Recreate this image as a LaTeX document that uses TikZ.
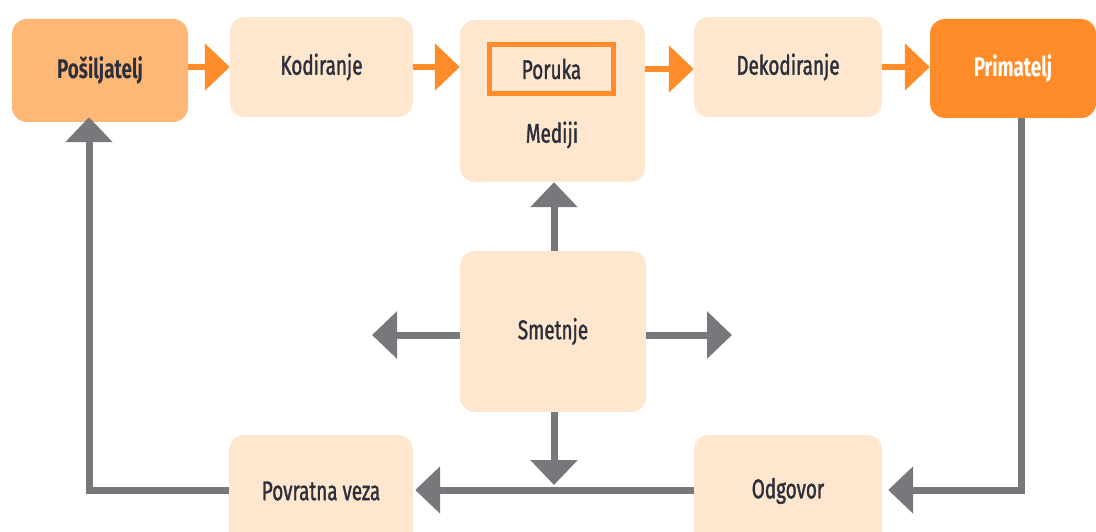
\documentclass[tikz,border=0pt]{standalone}
\usepackage{fontspec}
\setmainfont[FakeStretch=0.7]{Fira Sans}
\newfontfamily\medfont[FakeStretch=0.7,FakeBold=1.3]{Fira Sans}
\usetikzlibrary{arrows.meta}
\definecolor{lightbox}{HTML}{FEE6CF}
\definecolor{midorange}{HTML}{FDB777}
\definecolor{strongorange}{HTML}{FF8C28}
\definecolor{arrowgray}{HTML}{77787B}
\definecolor{textdark}{HTML}{2B2F3A}
\tikzset{
  lbl/.style={font=\medfont\fontsize{27}{30}\selectfont, text=textdark},
  box/.style={draw=none, fill=lightbox, rounded corners=15pt, lbl, inner sep=0pt},
  boldlbl/.style={font=\fontsize{27}{30}\selectfont\bfseries},
  orangearrow/.style={draw=strongorange, line width=6pt,
    -{Triangle[length=25pt,width=46pt]}},
  grayarrow/.style={draw=arrowgray, line width=7pt,
    -{Triangle[length=25pt,width=46pt]}},
}
\begin{document}
\begin{tikzpicture}[x=1pt,y=-1pt]
\useasboundingbox (0,0) rectangle (1096,532);
\clip (0,0) rectangle (1096,532);
% nodes
\node[box, fill=midorange, minimum width=176pt, minimum height=103pt, boldlbl] (P) at (100,70.5) {Pošiljatelj};
\node[box, minimum width=183pt, minimum height=100pt] (K) at (321.5,67) {Kodiranje};
\node[box, minimum width=185pt, minimum height=162pt] (M) at (552.5,101) {};
\node[draw=strongorange, line width=5pt, minimum width=124pt, minimum height=49pt, inner sep=0pt, lbl] (R1) at (551.5,69) {Poruka};
\node[lbl, inner sep=0pt] (Mt) at (552,135) {Mediji};
\node[box, minimum width=188pt, minimum height=100pt] (D) at (788,67) {Dekodiranje};
\node[box, fill=strongorange, text=white, minimum width=166pt, minimum height=99pt, boldlbl] (R) at (1013,68.5) {Primatelj};
\node[box, minimum width=186pt, minimum height=161pt] (S) at (553,331.5) {Smetnje};
\node[box, minimum width=184pt, minimum height=112pt] (V) at (321,491) {Povratna veza};
\node[box, minimum width=188pt, minimum height=112pt] (O) at (788,491) {Odgovor};
% helper coordinates
\coordinate (Sl) at (372,335);
\coordinate (Sr) at (732,335);
\coordinate (Sd) at (554,485);
\coordinate (Rb) at (1021,490);
\coordinate (Pc) at (89,490);
% orange arrows
\draw[orangearrow] (P.east |- 0,67) -- (K.west);
\draw[orangearrow] (K.east) -- (M.west |- K.east);
\draw[orangearrow] (M.east |- 0,69) -- (D.west |- 0,69);
\draw[orangearrow] (D.east) -- (R.west |- D.east);
% gray arrows
\draw[grayarrow] (S.north -| 554,0) -- (M.south -| 554,0);
\draw[grayarrow] (S.west |- Sl) -- (Sl);
\draw[grayarrow] (S.east |- Sr) -- (Sr);
\draw[grayarrow] (S.south -| Sd) -- (Sd);
\draw[grayarrow] (O.west |- 0,490) -- ([xshift=2pt]V.east |- 0,490);
\draw[grayarrow, line join=miter] (R.south -| Rb) -- (Rb) -- ([xshift=6pt]O.east |- Rb);
\draw[grayarrow, line join=miter] (V.west |- Pc) -- (Pc) -- ([yshift=5pt]P.south -| Pc);
\end{tikzpicture}
\end{document}
